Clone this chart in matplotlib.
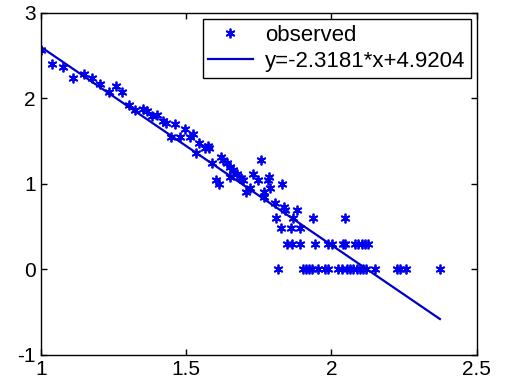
import numpy as np
import matplotlib.pyplot as plt

plt.rcParams['font.family'] = ['Liberation Sans', 'DejaVu Sans']
plt.rcParams['axes.unicode_minus'] = False

# observed points
x_upper = [1.00, 1.04, 1.077, 1.112, 1.149, 1.176, 1.205, 1.233, 1.257, 1.281,
           1.304, 1.323, 1.35, 1.364, 1.383, 1.40, 1.42, 1.432, 1.463, 1.447,
           1.48, 1.495, 1.513, 1.524, 1.533, 1.544, 1.564, 1.575, 1.58, 1.59,
           1.604, 1.613, 1.62, 1.627, 1.639, 1.652, 1.66, 1.65, 1.675, 1.687,
           1.696, 1.707, 1.72, 1.73, 1.748, 1.757, 1.768, 1.767, 1.785, 1.782,
           1.79, 1.805, 1.83, 1.836, 1.84, 1.88, 1.808, 1.868, 1.937, 2.046,
           1.828, 1.862, 1.893]
y_upper = [2.56, 2.40, 2.37, 2.24, 2.28, 2.24, 2.17, 2.08, 2.15, 2.07,
           1.92, 1.86, 1.88, 1.85, 1.79, 1.81, 1.74, 1.71, 1.70, 1.55,
           1.55, 1.64, 1.55, 1.58, 1.36, 1.48, 1.42, 1.44, 1.42, 1.24,
           1.05, 1.00, 1.31, 1.28, 1.24, 1.20, 1.16, 1.08, 1.11, 1.07,
           1.04, 0.90, 0.95, 1.12, 1.05, 1.28, 0.90, 0.85, 1.08, 1.04,
           0.95, 0.78, 1.00, 0.73, 0.70, 0.70, 0.60, 0.60, 0.60, 0.60,
           0.48, 0.48, 0.48]

x_row03 = [1.846, 1.863, 1.891, 1.943, 1.987, 2.001, 2.039, 2.046, 2.080,
           2.091, 2.104, 2.115, 2.125]
y_row03 = [0.301] * len(x_row03)

x_row0 = [1.815, 1.901, 1.912, 1.922, 1.932, 1.953, 1.977, 1.987, 2.022,
          2.035, 2.053, 2.063, 2.073, 2.087, 2.097, 2.108, 2.118, 2.149,
          2.225, 2.235, 2.256, 2.373]
y_row0 = [0.0] * len(x_row0)

slope = -2.3181
intercept = 4.9204

x_obs = np.array(x_upper + x_row03 + x_row0)
y_obs = np.array(y_upper + y_row03 + y_row0)

fig = plt.figure(figsize=(5.1, 3.9), dpi=100)
ax = fig.add_axes([0.080, 0.090, 0.855, 0.877])

ax.plot(x_obs, y_obs, linestyle='none', marker=(6, 2, 0), markersize=7,
        markeredgewidth=1.3, color='#0000ee', label='observed')
x_fit = np.array([x_obs.min(), x_obs.max()])
ax.plot(x_fit, slope * x_fit + intercept, color='#0000cc', linewidth=1.6,
        label='y=%.4f*x+%.4f' % (slope, intercept))

ax.set_xlim(1, 2.5)
ax.set_ylim(-1, 3)
ax.set_xticks([1, 1.5, 2, 2.5])
ax.set_xticklabels(['1', '1.5', '2', '2.5'])
ax.set_yticks([-1, 0, 1, 2, 3])
ax.tick_params(direction='in', top=True, right=True, labelsize=15,
               length=4, width=1, colors='black')
for s in ax.spines.values():
    s.set_linewidth(1.0)

leg = ax.legend(loc='upper right', bbox_to_anchor=(0.986, 0.982),
                borderaxespad=0, fontsize=16, fancybox=False,
                edgecolor='black', framealpha=1, handlelength=2.0,
                borderpad=0.25, labelspacing=0.25, handletextpad=0.55)
leg.get_frame().set_linewidth(1.0)

plt.savefig('out.png', dpi=100)
